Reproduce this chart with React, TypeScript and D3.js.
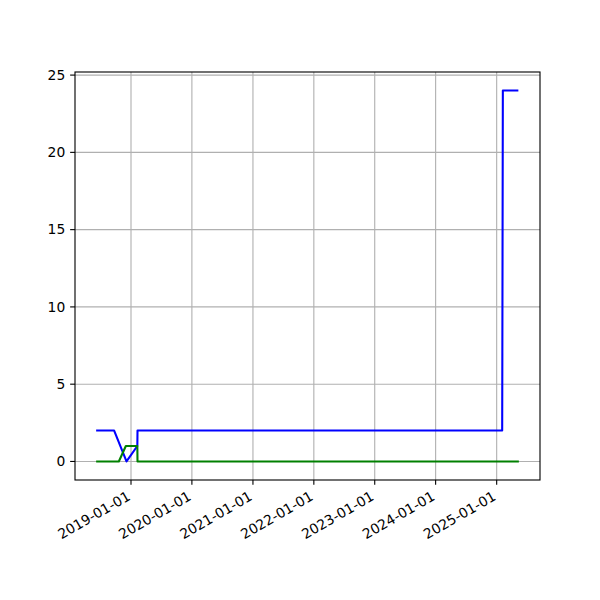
import React from "react";
import * as d3 from "d3";

const blueDates = ["2018-06-06", "2018-09-22", "2018-12-05", "2019-02-08", "2019-02-09", "2025-02-03", "2025-02-04", "2025-02-07", "2025-05-11"];
const blueValues = [2, 2, 0, 1, 2, 2, 7, 24, 24];
const greenDates = ["2018-06-06", "2018-10-20", "2018-12-01", "2019-02-08", "2019-02-09", "2025-05-14"];
const greenValues = [0, 0, 1, 1, 0, 0];
const xTickLabels = ["2019-01-01", "2020-01-01", "2021-01-01", "2022-01-01", "2023-01-01", "2024-01-01", "2025-01-01"];
const yTickValues = [0, 5, 10, 15, 20, 25];

const parse = d3.utcParse("%Y-%m-%d");

export default function App() {
  const W = 600, H = 600;
  const left = 75, right = 540, top = 72, bottom = 480;
  const pt = 100 / 72;
  const blue = blueDates.map((d, i) => ({ t: parse(d)!, v: blueValues[i] }));
  const green = greenDates.map((d, i) => ({ t: parse(d)!, v: greenValues[i] }));
  const all = [...blue, ...green];
  const tExt = d3.extent(all, (d) => +d.t) as [number, number];
  const tPad = (tExt[1] - tExt[0]) * 0.05;
  const vExt = d3.extent(all, (d) => d.v) as [number, number];
  const vPad = (vExt[1] - vExt[0]) * 0.05;
  const x = d3.scaleUtc().domain([new Date(tExt[0] - tPad), new Date(tExt[1] + tPad)]).range([left, right]);
  const y = d3.scaleLinear().domain([vExt[0] - vPad, vExt[1] + vPad]).range([bottom, top]);
  const line = d3.line<{ t: Date; v: number }>().x((d) => x(d.t)).y((d) => y(d.v));
  const font = "'DejaVu Sans', sans-serif";
  const xticks = xTickLabels.map((s) => ({ s, t: parse(s)! }));
  return (
    <svg width={W} height={H} style={{ position: "absolute", left: 0, top: 0 }}>
      <rect x={0} y={0} width={W} height={H} fill="#fff" />
      <g>
        {xticks.map((d) => (
          <line key={d.s} x1={x(d.t)} x2={x(d.t)} y1={top} y2={bottom} stroke="#b0b0b0" strokeWidth={0.8 * pt} />
        ))}
        {yTickValues.map((v) => (
          <line key={v} x1={left} x2={right} y1={y(v)} y2={y(v)} stroke="#b0b0b0" strokeWidth={0.8 * pt} />
        ))}
      </g>
      <path d={line(blue)!} fill="none" stroke="#0000ff" strokeWidth={1.5 * pt} strokeLinejoin="round" />
      <path d={line(green)!} fill="none" stroke="#008000" strokeWidth={1.5 * pt} strokeLinejoin="round" />
      <rect x={left} y={top} width={right - left} height={bottom - top} fill="none" stroke="#000" strokeWidth={0.8 * pt} />
      {xticks.map((d) => (
        <g key={d.s}>
          <line x1={x(d.t)} x2={x(d.t)} y1={bottom} y2={bottom + 3.5 * pt} stroke="#000" strokeWidth={0.8 * pt} />
          <text
            transform={`translate(${x(d.t) - 5},${bottom + 10}) rotate(-30)`}
            textAnchor="end"
            dy="0.76em"
            fontFamily={font}
            fontSize={10 * pt}
            fill="#000"
          >
            {d.s}
          </text>
        </g>
      ))}
      {yTickValues.map((v) => (
        <g key={v}>
          <line x1={left - 3.5 * pt} x2={left} y1={y(v)} y2={y(v)} stroke="#000" strokeWidth={0.8 * pt} />
          <text x={left - 7 * pt} y={y(v)} dy="0.35em" textAnchor="end" fontFamily={font} fontSize={10 * pt} fill="#000">
            {v}
          </text>
        </g>
      ))}
    </svg>
  );
}
